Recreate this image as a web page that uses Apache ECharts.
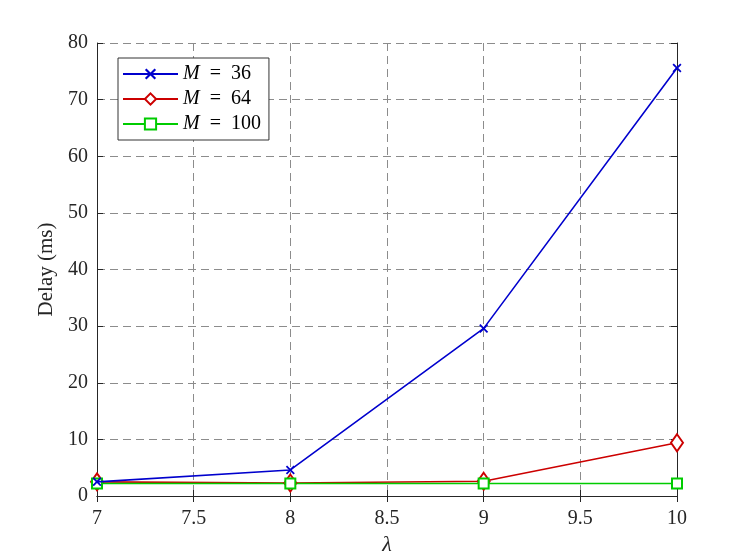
<!DOCTYPE html>
<html>
<head>
<meta charset="utf-8">
<script src="https://cdn.jsdelivr.net/npm/echarts@6/dist/echarts.min.js"></script>
<style>
  html, body { margin: 0; padding: 0; background: #fff; }
  #chart { width: 747px; height: 560px; }
</style>
</head>
<body>
<div id="chart"></div>
<script>
// lambda 取值
const lambdas = [7, 8, 9, 10]
// 各 M 下的时延 (ms)
const delayM36 = [2.5, 4.6, 29.6, 75.6]
const delayM64 = [2.5, 2.3, 2.6, 9.4]
const delayM100 = [2.2, 2.2, 2.2, 2.2]
const seriesNames = ['M = 36', 'M = 64', 'M = 100']

const FONT = '"Liberation Serif", "DejaVu Serif", serif'
const TXT = '#262626'
const crossPath = 'path://M0,1.4L1.4,0L5,3.6L8.6,0L10,1.4L6.4,5L10,8.6L8.6,10L5,6.4L1.4,10L0,8.6L3.6,5Z'

function pairs(ys) {
  return lambdas.map((x, i) => [x, ys[i]])
}

const chart = echarts.init(document.getElementById('chart'))

const axisLine = { show: true, lineStyle: { color: TXT, width: 1 } }
const gridLine = { show: true, lineStyle: { color: '#8c8c8c', type: [8, 5], width: 1 } }

chart.setOption({
  animation: false,
  backgroundColor: '#fff',
  grid: { left: 97, right: 70, top: 43, bottom: 64, containLabel: false, outerBoundsMode: 'none' },
  legend: {
    data: seriesNames,
    orient: 'vertical',
    left: 118,
    top: 58,
    itemWidth: 55,
    itemHeight: 14,
    itemGap: 5,
    padding: [6, 8, 6, 4],
    backgroundColor: '#fff',
    borderColor: '#333',
    borderWidth: 1,
    borderRadius: 0,
    formatter: (name) => '{i|M}{n|  =  ' + name.split('= ')[1] + '}',
    textStyle: {
      color: TXT,
      rich: {
        i: { fontFamily: FONT, fontStyle: 'italic', fontSize: 20, color: '#000' },
        n: { fontFamily: FONT, fontSize: 20, color: '#000' }
      }
    }
  },
  xAxis: [
    {
      type: 'value', min: 7, max: 10, interval: 0.5,
      axisLine: axisLine,
      axisTick: { show: true, inside: true, length: 6, lineStyle: { color: TXT } },
      axisLabel: { color: TXT, fontFamily: FONT, fontSize: 20, margin: 13 },
      splitLine: gridLine,
      name: 'λ', nameLocation: 'middle', nameGap: 38,
      nameTextStyle: { fontFamily: FONT, fontStyle: 'italic', fontSize: 22, color: TXT }
    },
    {
      type: 'value', position: 'top', min: 7, max: 10, interval: 0.5,
      axisLine: axisLine,
      axisTick: { show: true, inside: true, length: 6, lineStyle: { color: TXT } },
      axisLabel: { show: false }, splitLine: { show: false }
    }
  ],
  yAxis: [
    {
      type: 'value', min: 0, max: 80, interval: 10,
      axisLine: axisLine,
      axisTick: { show: true, inside: true, length: 6, lineStyle: { color: TXT } },
      axisLabel: { color: TXT, fontFamily: FONT, fontSize: 20, margin: 9 },
      splitLine: gridLine,
      name: 'Delay (ms)', nameLocation: 'middle', nameGap: 38,
      nameTextStyle: { fontFamily: FONT, fontSize: 21, color: TXT }
    },
    {
      type: 'value', position: 'right', min: 0, max: 80, interval: 10,
      axisLine: axisLine,
      axisTick: { show: true, inside: true, length: 6, lineStyle: { color: TXT } },
      axisLabel: { show: false }, splitLine: { show: false }
    }
  ],
  series: [
    {
      name: seriesNames[0], type: 'line', data: pairs(delayM36),
      symbol: crossPath, symbolSize: 9, z: 3,
      lineStyle: { color: '#0000cd', width: 1.6 },
      itemStyle: { color: '#0000cd' }
    },
    {
      name: seriesNames[1], type: 'line', data: pairs(delayM64),
      symbol: 'emptyDiamond', symbolSize: [12, 17], z: 2,
      lineStyle: { color: '#cc0000', width: 1.6 },
      itemStyle: { color: '#cc0000', borderWidth: 1.6 }
    },
    {
      name: seriesNames[2], type: 'line', data: pairs(delayM100),
      symbol: 'emptyRect', symbolSize: 10, z: 2,
      lineStyle: { color: '#00cc00', width: 1.6 },
      itemStyle: { color: '#00cc00', borderWidth: 1.6 }
    }
  ]
})
</script>
</body>
</html>
